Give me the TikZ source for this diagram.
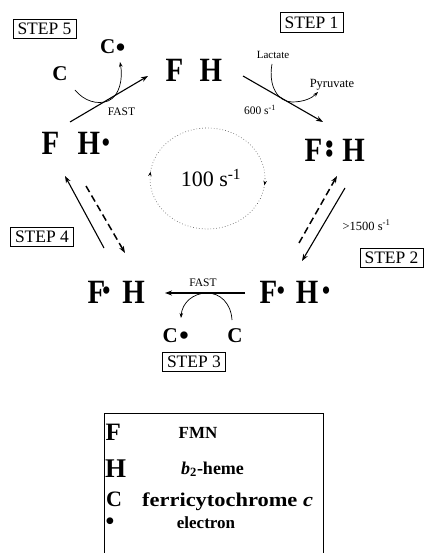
\documentclass[tikz,border=0pt]{standalone}
\usepackage{fontspec}
\setmainfont{Liberation Serif}
\newfontfamily\cplxfont[FakeStretch=0.85]{Liberation Serif}
\newfontfamily\widefont[FakeStretch=1.15]{Liberation Serif}
\usetikzlibrary{arrows.meta,decorations.markings}
\newcommand{\edot}[1][3.1pt]{\raisebox{#1}{\fontsize{27}{27}\selectfont •}}
\tikzset{
  cplx/.style={inner sep=0pt, anchor=base west, font=\cplxfont\bfseries\fontsize{34}{34}\selectfont},
  cyt/.style={inner sep=0pt, font=\bfseries\fontsize{21}{21}\selectfont},
  stepbox/.style={draw, line width=0.9pt, inner xsep=4.5pt, inner ysep=4pt, font=\fontsize{17.5}{17.5}\selectfont},
  lbl/.style={inner sep=0pt, anchor=base, font=\fontsize{11.5}{11.5}\selectfont},
  rxn/.style={line width=1.1pt, -{Stealth[length=7pt,width=5pt]}},
  rxndash/.style={line width=1.5pt, dash pattern=on 7pt off 4pt, -{Stealth[length=7pt,width=5pt]}},
  side/.style={line width=0.7pt, -{Stealth[length=5pt,width=3.5pt]}},
  leg/.style={inner sep=0pt, anchor=base, font=\bfseries\fontsize{17}{17}\selectfont},
}
\begin{document}
\begin{tikzpicture}[x=1pt,y=-1pt]
\useasboundingbox (0,0) rectangle (423,553);

% complexes
\node[cplx] (ctop) at (165.5,82) {F\hspace{16.3pt}H};
\node[cplx] (cright) at (304.5,162) {F\hspace{3.1pt}\rlap{\edot[8.1pt]}\edot[-0.4pt]\hspace{8.8pt}H};
\node[cplx] (cbr) at (259.5,303) {F\hspace{-0.4pt}\edot\hspace{10.8pt}H\hspace{3.8pt}\edot};
\node[cplx] (cbl) at (87.5,303) {F\hspace{-2.9pt}\edot\hspace{11.8pt}H};
\node[cplx] (cleft) at (41.5,155) {F\hspace{18.3pt}H\hspace{1.8pt}\edot};

% cytochrome c labels
\node[cyt, anchor=base] (c5a) at (60,81) {C};
\node[cyt, anchor=base west] (c5b) at (100,54) {C\hspace{0.4pt}\edot[-2.3pt]};
\node[cyt, anchor=base west] (c3a) at (162.5,342) {C\hspace{1.4pt}\edot[-2.3pt]};
\node[cyt, anchor=base] (c3b) at (235,342) {C};

% step boxes
\node[stepbox] (s5) at (44.5,29) {STEP 5};
\node[stepbox] (s1) at (311.5,22.5) {STEP 1};
\node[stepbox] (s4) at (42,237) {STEP 4};
\node[stepbox] (s2) at (391.5,258) {STEP 2};
\node[stepbox] (s3) at (194,362) {STEP 3};

% small labels
\node[lbl] (fast5) at (121.5,116) {FAST};
\node[lbl, font=\fontsize{11}{11}\selectfont] (lact) at (273,59) {Lactate};
\node[lbl, font=\fontsize{12.5}{12.5}\selectfont] (pyr) at (332,88) {Pyruvate};
\node[lbl] (k1) at (260,115) {600 s\textsuperscript{-1}};
\node[lbl, font=\fontsize{12.5}{12.5}\selectfont] (k2) at (366.5,230) {>1500 s\textsuperscript{-1}};
\node[lbl] (fast3) at (203,286) {FAST};
\node[inner sep=0pt, anchor=base, font=\fontsize{22}{22}\selectfont] (kc) at (211,187) {100 s\textsuperscript{-1}};

% cycle ellipse
\draw[line width=0.6pt, gray!70!black, dash pattern=on 0.7pt off 2.2pt,
  postaction={decorate},
  decoration={markings,
    mark=at position 0.02 with {\arrow[black]{Stealth[length=4.5pt,width=3.5pt]}},
    mark=at position 0.52 with {\arrow[black]{Stealth[length=4.5pt,width=3.5pt]}}}]
  (207.5,178.5) ellipse (57.5 and 50.5);

% reaction arrows (named end points)
\coordinate (a5s) at (70,122);  \coordinate (a5e) at (148,76);
\coordinate (a1s) at (243,76);  \coordinate (a1e) at (323,122);
\coordinate (a2ds) at (299,243); \coordinate (a2de) at (337,176);
\coordinate (a2ss) at (345,188); \coordinate (a2se) at (302,261);
\coordinate (a3s) at (245,293); \coordinate (a3e) at (165,293);
\coordinate (a4ss) at (104,248); \coordinate (a4se) at (65,176);
\coordinate (a4ds) at (86,186); \coordinate (a4de) at (125,253);

\draw[rxn] (a5s) -- (a5e);
\draw[rxn] (a1s) -- (a1e);
\draw[rxndash] (a2ds) -- (a2de);
\draw[rxn] (a2ss) -- (a2se);
\draw[rxn] (a3s) -- (a3e);
\draw[rxn] (a4ss) -- (a4se);
\draw[rxndash] (a4ds) -- (a4de);

% side reactions
\coordinate (q5s) at (75,90); \coordinate (q5m) at (108,101); \coordinate (q5e) at (120,62);
\draw[side] (q5s) .. controls (84,101) and (97,105) .. (q5m) .. controls (120,96) and (123,78) .. (q5e);
\coordinate (q1s) at (272,64); \coordinate (q1m) at (292,102); \coordinate (q1e) at (318,92);
\draw[side] (q1s) .. controls (268,86) and (278,102) .. (q1m) .. controls (304,102) and (312,98) .. (q1e);
\coordinate (q3s) at (232,320); \coordinate (q3m) at (207,293); \coordinate (q3e) at (181,318);
\draw[side] (q3s) .. controls (231,303) and (220,293) .. (q3m) .. controls (193,293) and (182,303) .. (q3e);

% legend
\draw[line width=0.9pt] (104,556) -- (104,413) -- (323,413) -- (323,556);
\node[inner sep=0pt, anchor=base west, font=\bfseries\fontsize{25}{25}\selectfont] (lF) at (105.5,440) {F};
\node[leg] (lFMN) at (198,438) {FMN};
\node[inner sep=0pt, anchor=base west, font=\bfseries\fontsize{27}{27}\selectfont] (lH) at (105,477) {H};
\node[leg, anchor=base west, font=\bfseries\fontsize{18}{18}\selectfont] (lb2) at (181,474) {\textit{b}\textsubscript{2}-heme};
\node[inner sep=0pt, anchor=base west, font=\bfseries\fontsize{22}{22}\selectfont] (lC) at (106,506) {C};
\node[leg, anchor=base west, font=\widefont\bfseries\fontsize{19.5}{19.5}\selectfont] (lfc) at (142,506) {ferricytochrome \textit{c}};
\node[leg, font=\bfseries\fontsize{25}{25}\selectfont] (ldot) at (110,529) {•};
\node[leg] (lel) at (206,528) {electron};
\end{tikzpicture}
\end{document}
